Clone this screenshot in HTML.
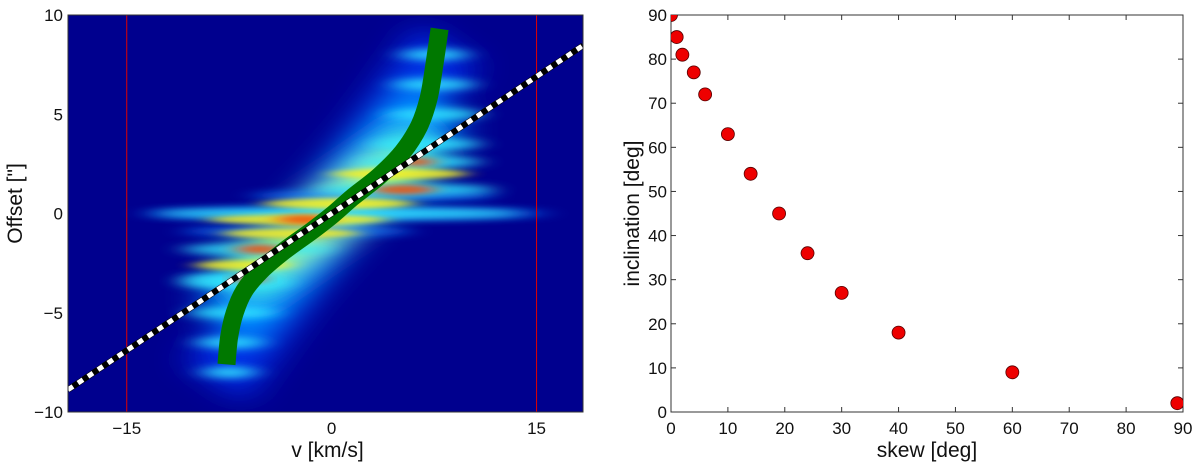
<!DOCTYPE html>
<html><head><meta charset="utf-8"><style>
body{margin:0;background:#fff;}
svg{display:block;font-family:"Liberation Sans",sans-serif;}
</style></head><body>
<svg id="fig" width="1200" height="462" viewBox="0 0 1200 462">
<defs>
<filter id="b6" x="-50%" y="-300%" width="200%" height="700%"><feGaussianBlur stdDeviation="12 4"/></filter>
<filter id="b3" x="-50%" y="-300%" width="200%" height="700%"><feGaussianBlur stdDeviation="10 2.5"/></filter>
<filter id="b12" x="-50%" y="-100%" width="200%" height="300%"><feGaussianBlur stdDeviation="18 12"/></filter>
<clipPath id="clipL"><rect x="68" y="15" width="515" height="397"/></clipPath>
<clipPath id="clipR"><rect x="671" y="15" width="512" height="397"/></clipPath>
</defs>
<g id="left"></g>
<g id="right"></g>
</svg>
<script>
// ---- Left panel data ----
const vTicks = [-15, 0, 15];
const vTickLabels = ["\u221215", "0", "15"];
const offTicks = [-10, -5, 0, 5, 10];
const offTickLabels = ["\u221210", "\u22125", "0", "5", "10"];
const redLinesV = [-15, 15];
const streakOffset = [0, 0.9, -0.9, 3.5, 5, 6.5, 8, -3.5, -5, -6.5, -8, 0, 1.2, 2.6, -1.8, -3.3, -0.3, 2, -1, -2.6, 0.5, -0.3, 1.2, 2.6, -1.8, -3.3];
const streakVmin   = [-14, -6, -11, 3, 4, 4.5, 5, -11, -10.5, -10, -9.5, -13, -1, 2, -11, -11, -9, 0, -8, -10, -5, -4, 3, 5, -7, -7];
const streakVmax   = [16, 12, 6, 11, 11, 10.5, 10, -3, -4, -5, -5.5, 14, 12, 11, 0, -4, 4, 10, 2, -3, 6, 0, 7.5, 7.5, -3.5, -5];
const streakLevel  = [0, 0, 0, 1, 1, 1, 1, 1, 1, 1, 1, 1, 1, 1, 1, 1, 2, 2, 2, 2, 2, 3, 3, 3, 3, 3];
const curveV   = [-7.7, -7.5, -7.1, -6.4, -5.2, -3.5, -1.5, 0, 1.5, 3.5, 5.2, 6.4, 7.1, 7.5, 7.9];
const curveOff = [-7.6, -6.2, -5, -3.9, -2.9, -1.9, -0.9, -0.1, 0.8, 1.9, 3.1, 4.4, 5.8, 7.4, 9.3];
const dashSlope = 0.46;
// ---- Right panel data ----
const skew = [0, 1, 2, 4, 6, 10, 14, 19, 24, 30, 40, 60, 89];
const incl = [90, 85, 81, 77, 72, 63, 54, 45, 36, 27, 18, 9, 2];
const xTicksR = [0,10,20,30,40,50,60,70,80,90];
const yTicksR = [0,10,20,30,40,50,60,70,80,90];

const NS = "http://www.w3.org/2000/svg";
function mk(tag, attrs, parent){const e=document.createElementNS(NS,tag);for(const k in attrs)e.setAttribute(k,attrs[k]);parent.appendChild(e);return e;}

const L = {x0:68,x1:583,y0:15,y1:412,vmin:-19.3,vmax:18.4,omin:-10,omax:10};
const xL = v => L.x0 + (v-L.vmin)/(L.vmax-L.vmin)*(L.x1-L.x0);
const yL = o => L.y1 - (o-L.omin)/(L.omax-L.omin)*(L.y1-L.y0);
const gL = document.getElementById('left');
const plot = mk('g',{'clip-path':'url(#clipL)'},gL);


mk('rect',{x:L.x0,y:L.y0,width:L.x1-L.x0,height:L.y1-L.y0,fill:'#00008e'},plot);
const env = mk('g',{filter:'url(#b12)'},plot);
mk('line',{x1:xL(-8.5),y1:yL(-8.5),x2:xL(8.5),y2:yL(8.5),stroke:'#0030f0','stroke-width':70,opacity:0.9},env);
mk('line',{x1:xL(-8),y1:yL(-5.5),x2:xL(8),y2:yL(5.5),stroke:'#0090ff','stroke-width':70},env);
mk('line',{x1:xL(-7),y1:yL(-3.5),x2:xL(7),y2:yL(3.5),stroke:'#40f0d0','stroke-width':55},env);
mk('line',{x1:xL(-5.5),y1:yL(-2.2),x2:xL(5.5),y2:yL(2.2),stroke:'#c0ff40','stroke-width':35},env);
const colors = ['#1080ff','#30e8ff','#f8f020','#f05010'];
const blurs = ['url(#b6)','url(#b6)','url(#b3)','url(#b3)'];
for(let lev=0;lev<4;lev++){
  for(let i=0;i<streakOffset.length;i++){
    if(streakLevel[i]!==lev) continue;
    const a=xL(streakVmin[i]), b=xL(streakVmax[i]);
    const e=mk('ellipse',{cx:(a+b)/2,cy:yL(streakOffset[i]),rx:(b-a)/2,ry:lev>=2?5:6,fill:colors[lev],filter:blurs[lev],opacity:lev===0?0.7:0.85},plot);
    
    
  }
}
redLinesV.forEach(v=>{const l=mk('line',{x1:xL(v),x2:xL(v),y1:L.y0,y2:L.y1,stroke:'#e00000','stroke-width':1},plot);
  
  });
// smooth Catmull-Rom path
const P = curveV.map((v,i)=>[xL(v),yL(curveOff[i])]);
let d='M'+P[0][0].toFixed(1)+','+P[0][1].toFixed(1);
for(let i=0;i<P.length-1;i++){
  const p0=P[Math.max(0,i-1)],p1=P[i],p2=P[i+1],p3=P[Math.min(P.length-1,i+2)];
  const c1=[p1[0]+(p2[0]-p0[0])/6,p1[1]+(p2[1]-p0[1])/6];
  const c2=[p2[0]-(p3[0]-p1[0])/6,p2[1]-(p3[1]-p1[1])/6];
  d+=`C${c1[0].toFixed(1)},${c1[1].toFixed(1)} ${c2[0].toFixed(1)},${c2[1].toFixed(1)} ${p2[0].toFixed(1)},${p2[1].toFixed(1)}`;
}
const gc=mk('path',{d:d,fill:'none',stroke:'#007800','stroke-width':18}, plot);


const dl={x1:xL(L.vmin),y1:yL(L.vmin*dashSlope),x2:xL(L.vmax),y2:yL(L.vmax*dashSlope)};
const dk=mk('line',Object.assign({stroke:'#000','stroke-width':6},dl),plot);


const dw=mk('line',Object.assign({stroke:'#fff','stroke-width':5,'stroke-dasharray':'6 6'},dl),plot);


mk('rect',{x:L.x0,y:L.y0,width:L.x1-L.x0,height:L.y1-L.y0,fill:'none',stroke:'#333','stroke-width':1},gL);
vTicks.forEach((v,i)=>{const t=mk('text',{x:xL(v),y:L.y1+22,'text-anchor':'middle','font-size':17,fill:'#111'},gL);t.textContent=vTickLabels[i];
  });
offTicks.forEach((o,i)=>{const t=mk('text',{x:L.x0-5,y:yL(o)+6,'text-anchor':'end','font-size':17,fill:'#111'},gL);t.textContent=offTickLabels[i];
  });
let t=mk('text',{x:(L.x0+L.x1)/2+2,y:L.y1+45,'text-anchor':'middle','font-size':21,fill:'#111'},gL);t.textContent='v [km/s]';

t=mk('text',{x:0,y:0,'text-anchor':'middle','font-size':21,fill:'#111',transform:`translate(22,${(L.y0+L.y1)/2-10}) rotate(-90)`},gL);t.textContent='Offset ["]';


// Right
const R={x0:671,x1:1183,y0:15,y1:412};
const xR=v=>R.x0+v/90*(R.x1-R.x0);
const yR=v=>R.y1-v/90*(R.y1-R.y0);
const gR=document.getElementById('right');
mk('rect',{x:R.x0,y:R.y0,width:R.x1-R.x0,height:R.y1-R.y0,fill:'#fff',stroke:'#333','stroke-width':1},gR);
xTicksR.forEach(v=>{mk('line',{x1:xR(v),x2:xR(v),y1:R.y1,y2:R.y1-5,stroke:'#333'},gR);mk('line',{x1:xR(v),x2:xR(v),y1:R.y0,y2:R.y0+5,stroke:'#333'},gR);
  const tt=mk('text',{x:xR(v),y:R.y1+22,'text-anchor':'middle','font-size':17,fill:'#111'},gR);tt.textContent=v;
  });
yTicksR.forEach(v=>{mk('line',{x1:R.x0,x2:R.x0+5,y1:yR(v),y2:yR(v),stroke:'#333'},gR);mk('line',{x1:R.x1,x2:R.x1-5,y1:yR(v),y2:yR(v),stroke:'#333'},gR);
  const tt=mk('text',{x:R.x0-4,y:yR(v)+6,'text-anchor':'end','font-size':17,fill:'#111'},gR);tt.textContent=v;
  });
const pts=mk('g',{'clip-path':'url(#clipR)'},gR);
skew.forEach((s,i)=>{const c=mk('circle',{cx:xR(s),cy:yR(incl[i]),r:6.5,fill:'#ee0000',stroke:'#550000','stroke-width':0.8},pts);
  });
t=mk('text',{x:(R.x0+R.x1)/2,y:R.y1+45,'text-anchor':'middle','font-size':21,fill:'#111'},gR);t.textContent='skew [deg]';

t=mk('text',{x:0,y:0,'text-anchor':'middle','font-size':21,fill:'#111',transform:`translate(639,${(R.y0+R.y1)/2}) rotate(-90)`},gR);t.textContent='inclination [deg]';

</script>
</body></html>
